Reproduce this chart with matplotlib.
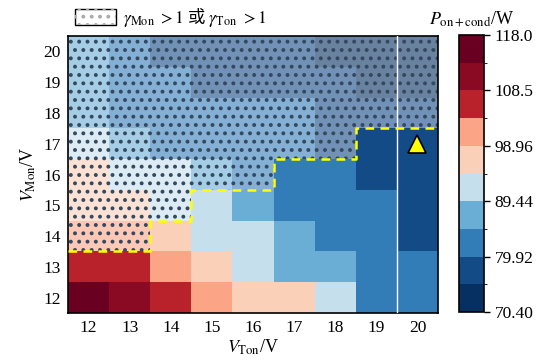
import numpy as np
import matplotlib.pyplot as plt
from matplotlib.colors import ListedColormap, BoundaryNorm
from matplotlib.patches import Rectangle, Patch
from matplotlib.legend_handler import HandlerTuple

# Define data.
v_ton = [12, 13, 14, 15, 16, 17, 18, 19, 20]
v_mon = [12, 13, 14, 15, 16, 17, 18, 19, 20]

# P_on+cond (W), one row per V_Mon value (12 -> 20), columns V_Ton 12 -> 20.
p_total = [
    [115.9, 111.6, 106.8, 101.2, 97.3, 96.1, 92.4, 82.6, 80.9],
    [107.4, 105.8, 100.6, 96.2, 92.0, 87.8, 86.1, 81.8, 80.5],
    [102.5, 100.9, 97.4, 93.1, 91.2, 86.6, 83.9, 81.0, 78.7],
    [98.1, 97.0, 92.8, 91.5, 88.3, 84.1, 82.5, 80.4, 78.0],
    [97.6, 93.5, 91.9, 87.9, 84.3, 82.9, 81.1, 78.6, 77.3],
    [93.4, 89.0, 84.5, 83.2, 82.4, 81.3, 79.5, 77.8, 76.6],
    [88.6, 84.2, 83.0, 82.1, 81.0, 80.3, 78.9, 77.4, 76.2],
    [87.8, 83.6, 81.4, 79.6, 78.8, 77.9, 76.9, 74.8, 73.9],
    [87.2, 82.8, 79.1, 78.4, 77.6, 76.5, 74.6, 73.2, 71.8],
]

# Number of columns (from V_Ton = 12) where gamma_Mon > 1 or gamma_Ton > 1, per V_Mon row.
gamma_cols = [0, 0, 2, 3, 5, 7, 9, 9, 9]

# Chosen operating point.
best_ton = 20
best_mon = 17

cbar_ticks = [70.40, 79.92, 89.44, 98.96, 108.5, 118.0]
cbar_labels = ['70.40', '79.92', '89.44', '98.96', '108.5', '118.0']
level_colors = ['#053061', '#134b87', '#327db8', '#6aaed6', '#c6dfed',
                '#fbd0b9', '#fca486', '#b9222b', '#8a0a24', '#6a0021']

plt.rcParams['font.family'] = ['Liberation Serif', 'Noto Sans CJK SC']
plt.rcParams['mathtext.fontset'] = 'stix'
plt.rcParams['hatch.linewidth'] = 1.6

values = np.array(p_total)
levels = np.linspace(cbar_ticks[0], cbar_ticks[-1], len(level_colors) + 1)
cmap = ListedColormap(level_colors)
norm = BoundaryNorm(levels, cmap.N)

fig = plt.figure(figsize=(5.42, 3.63), dpi=100)
ax = fig.add_axes([0.1255, 0.1377, 0.6827, 0.7631])

x_edges = np.append(np.array(v_ton) - 0.5, v_ton[-1] + 0.5)
y_edges = np.append(np.array(v_mon) - 0.5, v_mon[-1] + 0.5)
mesh = ax.pcolormesh(x_edges, y_edges, values, cmap=cmap, norm=norm)

# Hatched cells (gamma > 1).
for i, y in enumerate(v_mon):
    for j in range(gamma_cols[i]):
        x = v_ton[j]
        ax.add_patch(Rectangle((x - 0.5, y - 0.5), 1, 1, facecolor=(1, 1, 1, 0.4),
                               edgecolor='#34495e', hatch='..', lw=0))

# Dashed boundary of the hatched region.
xs, ys = [], []
for j, x in enumerate(v_ton):
    low = min(i for i in range(len(v_mon)) if gamma_cols[i] > j)
    yb = v_mon[low] - 0.5
    xs += [x - 0.5, x + 0.5]
    ys += [yb, yb]
ax.plot(xs, ys, color='yellow', ls='--', lw=1.8, dashes=(3.5, 2.5), clip_on=False, zorder=4)

ax.axvline(19.5, color='white', lw=1, zorder=3)
ax.plot(best_ton, best_mon, marker='^', ms=13, mfc='yellow', mec='black', mew=1.2, zorder=5)

ax.set_xlim(x_edges[0], x_edges[-1])
ax.set_ylim(y_edges[0], y_edges[-1])
ax.set_xticks(v_ton)
ax.set_yticks(v_mon)
ax.tick_params(axis='both', labelsize=12.5, length=0, pad=5)
ax.set_xlabel(r'$V_{\rm Ton}$/V', fontsize=13, labelpad=1)
ax.set_ylabel(r'$V_{\rm Mon}$/V', fontsize=13, labelpad=4)
for s in ax.spines.values():
    s.set_linewidth(1.2)

# Colorbar.
cax = fig.add_axes([0.8469, 0.1405, 0.0461, 0.763])
cb = fig.colorbar(mesh, cax=cax, ticks=cbar_ticks)
cb.set_ticklabels(cbar_labels)
cb.outline.set_linewidth(1.2)
cax.tick_params(labelsize=12.5, length=4, width=1)
cax.set_title(r'$P_{\rm on+cond}$/W', fontsize=13, pad=8)

# Legend.
h1 = Patch(facecolor='white', edgecolor='black', lw=1)
h2 = Patch(facecolor='none', edgecolor='#aaaaaa', hatch='..', lw=0)
fig.legend([(h1, h2)], [r'$\gamma_{\rm Mon}\ {>}1$ 或 $\gamma_{\rm Ton}\ {>}1$'],
           handler_map={tuple: HandlerTuple(ndivide=1, pad=0)},
           loc='center left', bbox_to_anchor=(0.138, 0.952), frameon=False,
           prop={'family': 'Noto Sans CJK SC', 'size': 12.5},
           handlelength=2.4, handleheight=1.0, handletextpad=0.4, borderaxespad=0,
           borderpad=0)

fig.savefig('out.png', dpi=100)
